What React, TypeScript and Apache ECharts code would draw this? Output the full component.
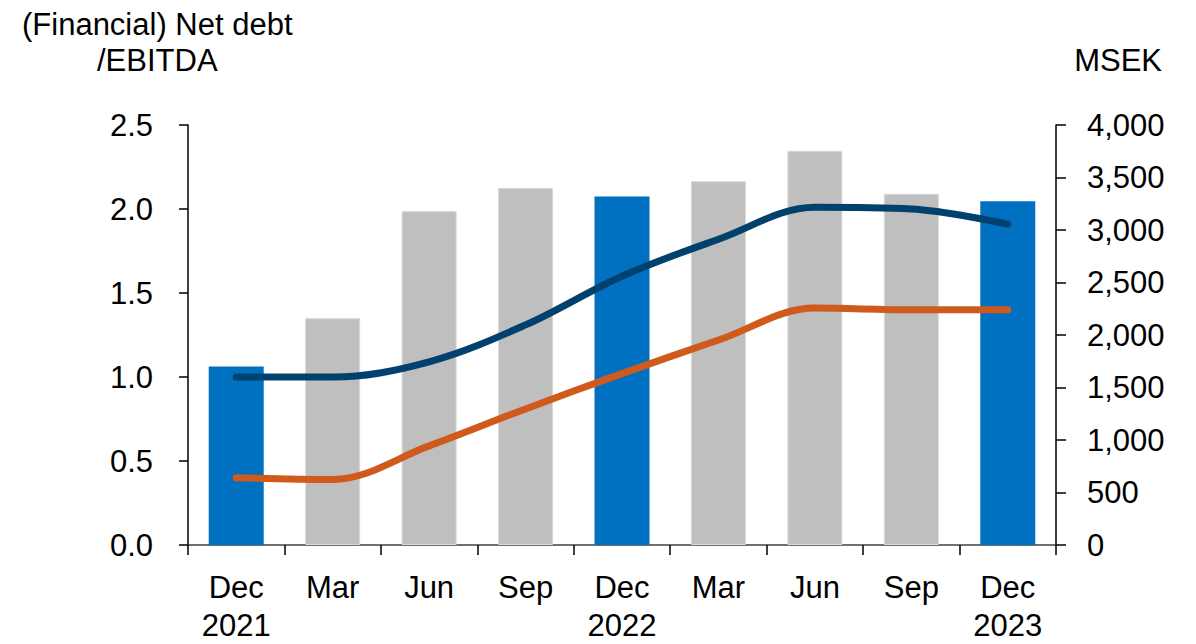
import React, { useEffect, useRef } from "react";
import * as echarts from "echarts";

const categories = ["Dec\n2021", "Mar", "Jun", "Sep", "Dec\n2022", "Mar", "Jun", "Sep", "Dec\n2023"];
const netDebtMSEK = [1700, 2160, 3180, 3400, 3320, 3465, 3755, 3345, 3275];
const barIsYearEnd = [true, false, false, false, true, false, false, false, true];
const netDebtEbitda = [1.0, 1.0, 1.09, 1.31, 1.6, 1.82, 2.01, 2.0, 1.91];
const financialNetDebtEbitda = [0.4, 0.39, 0.59, 0.81, 1.02, 1.22, 1.41, 1.4, 1.4];
const leftTicks = { min: 0, max: 2.5, interval: 0.5 };
const rightTicks = { min: 0, max: 4000, interval: 500 };

const FONT = "'Liberation Sans', Arial, sans-serif";
const FS = 31;

export default function App() {
  const ref = useRef<HTMLDivElement>(null);
  useEffect(() => {
    if (!ref.current) return;
    const chart = echarts.init(ref.current, undefined, { renderer: "svg" });
    chart.setOption({
      animation: false,
      textStyle: { fontFamily: FONT },
      grid: { left: 188, right: 140, top: 125, bottom: 94, containLabel: false },
      graphic: [
        { type: "text", left: 22, top: 9, style: { text: "(Financial) Net debt", font: `${FS}px ${FONT}`, fill: "#000" } },
        { type: "text", left: 97, top: 45, style: { text: "/EBITDA", font: `${FS}px ${FONT}`, fill: "#000" } },
        { type: "text", right: 34, top: 45, style: { text: "MSEK", font: `${FS}px ${FONT}`, fill: "#000" } },
      ],
      xAxis: {
        type: "category",
        data: categories,
        boundaryGap: true,
        axisLine: { lineStyle: { color: "#404040", width: 1.5 } },
        axisTick: { show: true, length: 10, alignWithLabel: false, lineStyle: { color: "#000", width: 1.5 } },
        axisLabel: {
          color: "#000",
          fontSize: FS,
          fontFamily: FONT,
          lineHeight: 38,
          margin: 23,
          interval: 0,
        },
      },
      yAxis: [
        {
          type: "value",
          position: "left",
          ...leftTicks,
          splitLine: { show: false },
          axisLine: { show: true, lineStyle: { color: "#000", width: 1.5 } },
          axisTick: { show: true, length: 9, lineStyle: { color: "#000", width: 1.5 } },
          axisLabel: { color: "#000", fontSize: FS, fontFamily: FONT, margin: 35, formatter: (v: number) => v.toFixed(1) },
        },
        {
          type: "value",
          position: "right",
          ...rightTicks,
          splitLine: { show: false },
          axisLine: { show: true, lineStyle: { color: "#000", width: 1.5 } },
          axisTick: { show: true, length: 10, lineStyle: { color: "#000", width: 1.5 } },
          axisLabel: {
            color: "#000",
            fontSize: FS,
            fontFamily: FONT,
            margin: 31,
            formatter: (v: number) => v.toLocaleString("en-US"),
          },
        },
      ],
      series: [
        {
          type: "bar",
          yAxisIndex: 1,
          barWidth: 55,
          data: netDebtMSEK.map((v, i) => ({
            value: v,
            itemStyle: barIsYearEnd[i]
              ? { color: "#0070C0" }
              : { color: "#BFBFBF", borderColor: "#D9D9D9", borderWidth: 1 },
          })),
        },
        {
          type: "line",
          yAxisIndex: 0,
          data: netDebtEbitda,
          smooth: 0.35,
          showSymbol: false,
          lineStyle: { color: "#00416E", width: 7, cap: "round", join: "round" },
        },
        {
          type: "line",
          yAxisIndex: 0,
          data: financialNetDebtEbitda,
          smooth: 0.35,
          showSymbol: false,
          lineStyle: { color: "#D05A1C", width: 7, cap: "round", join: "round" },
        },
      ],
    });
    return () => chart.dispose();
  }, []);
  return <div ref={ref} style={{ position: "absolute", left: 0, top: 0, width: 1196, height: 644 }} />;
}
